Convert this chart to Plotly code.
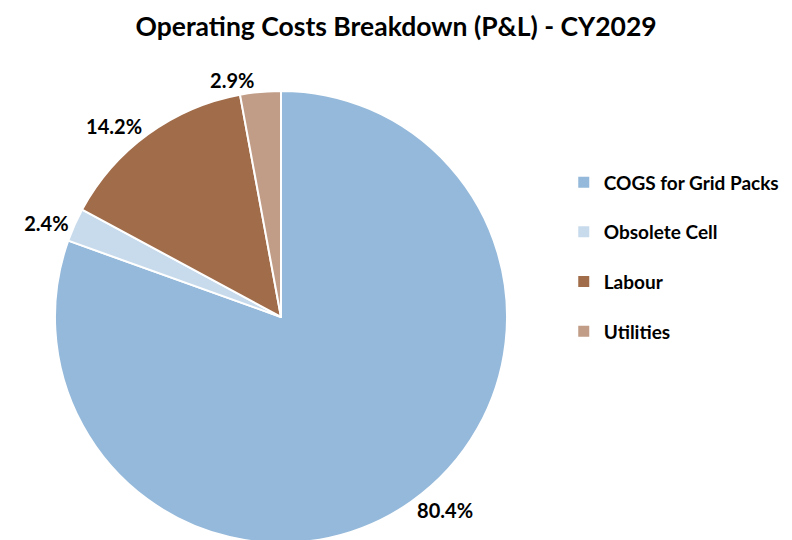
import plotly.graph_objects as go

categories = ["COGS for Grid Packs", "Obsolete Cell", "Labour", "Utilities"]
shares = [80.4, 2.4, 14.2, 2.9]
colors = ["#95B9DA", "#C8DBEC", "#A06C4A", "#C19C86"]
title_text = "Operating Costs Breakdown (P&L) - CY2029"

FONT = "Lato, Carlito, Calibri, sans-serif"

fig = go.Figure()
fig.add_trace(go.Pie(
    labels=categories,
    values=shares,
    marker=dict(colors=colors, line=dict(color="white", width=2)),
    sort=False,
    direction="clockwise",
    rotation=0,
    texttemplate="%{value:.1f}%",
    textposition="outside",
    outsidetextfont=dict(family=FONT, size=20, color="black", weight="bold"),
    showlegend=False,
    hoverinfo="label+percent",
    domain=dict(x=[0.0, 0.616], y=[0.0, 0.845]),
))

for name, col in zip(categories, colors):
    fig.add_trace(go.Scatter(
        x=[None], y=[None], mode="markers", name=name,
        legendgroup=name,
        marker=dict(symbol="square", size=11, color=col),
    ))

fig.update_layout(
    width=792, height=540,
    margin=dict(l=0, r=0, t=0, b=0),
    paper_bgcolor="white", plot_bgcolor="white",
    title=dict(text=title_text, x=0.49, xanchor="center", y=0.965, yanchor="middle",
               font=dict(family=FONT, size=26.5, color="black", weight="bold")),
    xaxis=dict(visible=False), yaxis=dict(visible=False),
    legend=dict(x=0.685, y=0.535, xanchor="left", yanchor="middle",
                font=dict(family=FONT, size=19, color="black", weight="bold"),
                tracegroupgap=22, itemwidth=30),
)

fig.write_html("out.html")
